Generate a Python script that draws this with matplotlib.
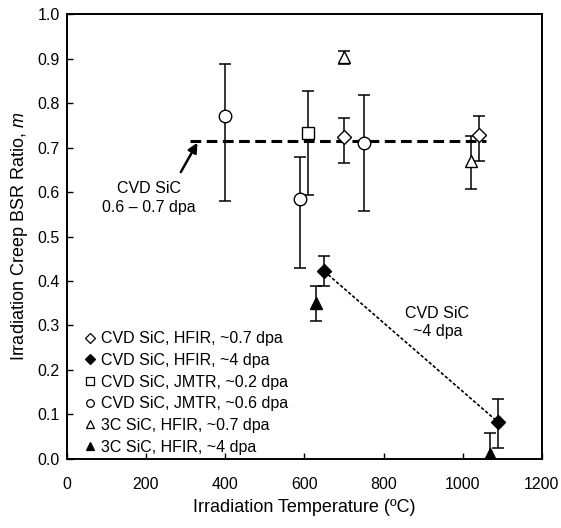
import matplotlib
matplotlib.use('Agg')
import matplotlib.pyplot as plt
from matplotlib.lines import Line2D

plt.rcParams['font.family'] = ['Liberation Sans', 'DejaVu Sans']
plt.rcParams['mathtext.fontset'] = 'custom'
plt.rcParams['mathtext.it'] = 'Liberation Sans:italic'
plt.rcParams['mathtext.rm'] = 'Liberation Sans'

# CVD SiC, HFIR, ~0.7 dpa (open diamond)
hfir07_T = [700, 1040]
hfir07_m = [0.723, 0.729]
hfir07_lo = [0.665, 0.670]
hfir07_hi = [0.766, 0.772]

# CVD SiC, HFIR, ~4 dpa (filled diamond)
hfir4_T = [650, 1090]
hfir4_m = [0.422, 0.082]
hfir4_lo = [0.389, 0.025]
hfir4_hi = [0.456, 0.134]

# CVD SiC, JMTR, ~0.2 dpa (open square)
jmtr02_T = [610]
jmtr02_m = [0.733]
jmtr02_lo = [0.593]
jmtr02_hi = [0.828]

# CVD SiC, JMTR, ~0.6 dpa (open circle)
jmtr06_T = [400, 588, 750]
jmtr06_m = [0.772, 0.585, 0.711]
jmtr06_lo = [0.581, 0.429, 0.558]
jmtr06_hi = [0.888, 0.680, 0.819]

# 3C SiC, HFIR, ~0.7 dpa (open triangle)
c3_07_T = [700, 1020]
c3_07_m = [0.903, 0.670]
c3_07_lo = [0.888, 0.606]
c3_07_hi = [0.918, 0.726]

# 3C SiC, HFIR, ~4 dpa (filled triangle)
c3_4_T = [630, 1070]
c3_4_m = [0.351, 0.010]
c3_4_lo = [0.310, -0.030]
c3_4_hi = [0.389, 0.057]

# trend line for the low dose data
fit_low_T = [310, 1060]
fit_low_m = [0.715, 0.715]

series = [
    ('CVD SiC, HFIR, ~0.7 dpa', hfir07_T, hfir07_m, hfir07_lo, hfir07_hi, 'D', 'white', 7.5),
    ('CVD SiC, HFIR, ~4 dpa', hfir4_T, hfir4_m, hfir4_lo, hfir4_hi, 'D', 'black', 7.5),
    ('CVD SiC, JMTR, ~0.2 dpa', jmtr02_T, jmtr02_m, jmtr02_lo, jmtr02_hi, 's', 'white', 8),
    ('CVD SiC, JMTR, ~0.6 dpa', jmtr06_T, jmtr06_m, jmtr06_lo, jmtr06_hi, 'o', 'white', 9),
    ('3C SiC, HFIR, ~0.7 dpa', c3_07_T, c3_07_m, c3_07_lo, c3_07_hi, '^', 'white', 9),
    ('3C SiC, HFIR, ~4 dpa', c3_4_T, c3_4_m, c3_4_lo, c3_4_hi, '^', 'black', 9),
]

fig = plt.figure(figsize=(5.61, 5.28), dpi=100)
ax = fig.add_axes([0.119, 0.131, 0.847, 0.842])

ax.plot(fit_low_T, fit_low_m, color='black', linestyle=(0, (3.5, 1.8)), linewidth=2.2, zorder=2)
ax.plot(hfir4_T, hfir4_m, color='black', linestyle=(0, (2, 1.2)), linewidth=1.2, zorder=2)

handles = []
for label, T, m, lo, hi, mk, fc, ms in series:
    yerr = [[v - l for v, l in zip(m, lo)], [h - v for v, h in zip(m, hi)]]
    ax.errorbar(T, m, yerr=yerr, fmt='none', ecolor='black', elinewidth=1.1,
                capsize=4, capthick=1.1, zorder=3)
    ax.plot(T, m, linestyle='none', marker=mk, markersize=ms, markerfacecolor=fc,
            markeredgecolor='black', markeredgewidth=1.0, zorder=4)
    handles.append(Line2D([], [], linestyle='none', marker=mk, markersize=5.5,
                          markerfacecolor=fc, markeredgecolor='black',
                          markeredgewidth=0.9, label=label))

ax.annotate('', xy=(330, 0.711), xytext=(288, 0.645),
            arrowprops=dict(arrowstyle='-|>', color='black', lw=1.8,
                            mutation_scale=14, shrinkA=0, shrinkB=0))
ax.text(208, 0.587, 'CVD SiC\n0.6 \u2013 0.7 dpa', ha='center', va='center',
        fontsize=11.5, linespacing=1.3)
ax.text(936, 0.307, 'CVD SiC\n~4 dpa', ha='center', va='center',
        fontsize=11.5, linespacing=1.3)

ax.legend(handles=handles, loc='lower left', frameon=False, fontsize=11.5,
          handlelength=0.6, handletextpad=0.4, labelspacing=0.42,
          borderaxespad=0.0, bbox_to_anchor=(0.025, -0.005))

ax.set_xlim(0, 1200)
ax.set_ylim(0, 1.0)
ax.set_xticks(range(0, 1201, 200))
ax.set_yticks([i / 10 for i in range(11)])
ax.set_yticklabels([f'{i / 10:.1f}' for i in range(11)])
ax.tick_params(direction='in', length=4, width=1, labelsize=11.5)
ax.tick_params(axis='x', pad=13)
ax.tick_params(axis='y', pad=5)
for s in ax.spines.values():
    s.set_linewidth(1.4)

ax.set_xlabel('Irradiation Temperature (\u00baC)', fontsize=13, labelpad=5)
ax.set_ylabel('Irradiation Creep BSR Ratio, $m$', fontsize=13, labelpad=5)

fig.savefig('out.png', dpi=100)
